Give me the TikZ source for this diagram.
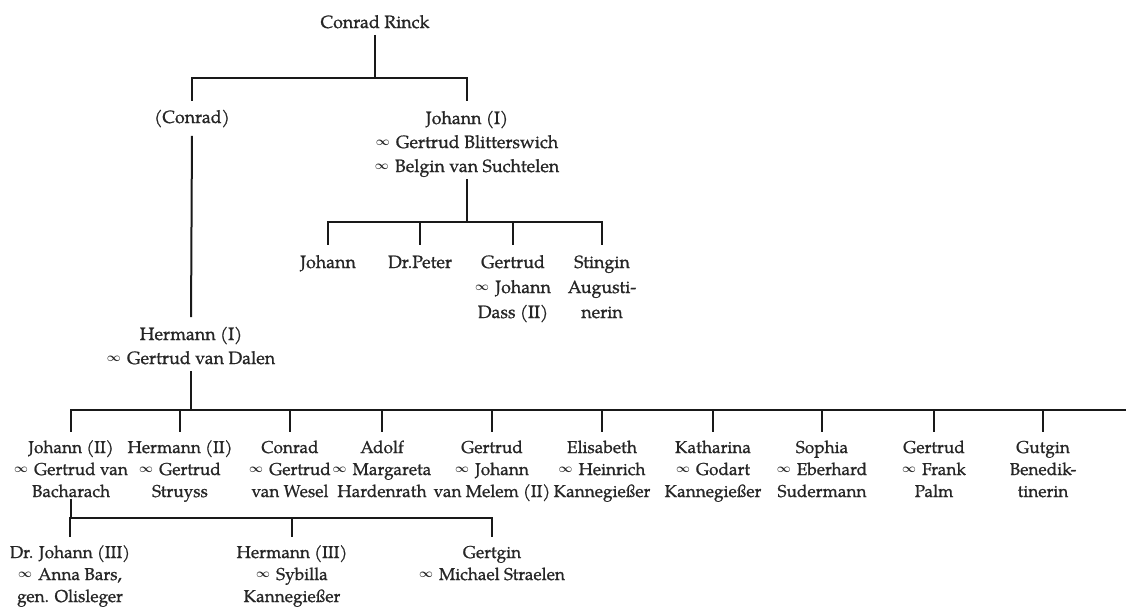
\documentclass[tikz,border=0pt]{standalone}
\usepackage{fontspec}
\setmainfont{TeX Gyre Pagella}[UprightFeatures={FakeBold=0.9}]
\newcommand\mrg{\raisebox{0.3ex}{\scalebox{0.7}{\boldmath$\infty$}}\hspace{0.35em}}
\begin{document}
\begin{tikzpicture}[x=1pt,y=-1pt,
  person/.style={align=center,inner sep=0pt,outer sep=0pt,anchor=north,text=black!85},
  bsA/.style={font=\fontsize{17.8}{23}\selectfont},
  bsB/.style={font=\fontsize{17.8}{24}\selectfont},
  bsC/.style={font=\fontsize{17.8}{25}\selectfont},
  bsD/.style={font=\fontsize{17.2}{22}\selectfont},
  ln/.style={line width=2pt,draw=black!90},
  edge/.style={ln,shorten <=6pt,shorten >=6pt},
  drop/.style={ln,shorten <=6pt}]
\useasboundingbox (0,0) rectangle (1126,607);

% generation 1
\node[person,bsA] (root) at (375,11.9) {\strut Conrad Rinck};
% generation 2
\node[person,bsA] (conrad) at (192,106.9) {\strut(Conrad)};
\node[person,bsB] (johannI) at (467,107.2) {\strut Johann (I)\\\mrg Gertrud Blitterswich\\\mrg Belgin van Suchtelen\strut};
% children of Johann (I)
\node[person,bsC] (jo) at (328,250.5) {\strut Johann};
\node[person,bsC] (peter) at (420,250.5) {\strut Dr.Peter};
\node[person,bsC] (gertA) at (513,250.5) {\strut Gertrud\\\mrg Johann\\Dass (II)\strut};
\node[person,bsC] (sting) at (602,250.5) {\strut Stingin\\Augusti-\\nerin\strut};
% Hermann (I)
\node[person,bsB] (hermI) at (191,323.2) {\strut Hermann (I)\\\mrg Gertrud van Dalen\strut};
% children of Hermann (I)
\node[person,bsD] (jII) at (71,437.6) {\strut Johann (II)\\\mrg Gertrud van\\Bacharach\strut};
\node[person,bsD] (hII) at (180,437.6) {\strut Hermann (II)\\\mrg Gertrud\\Struyss\strut};
\node[person,bsD] (conC) at (290,437.6) {\strut Conrad\\\mrg Gertrud\\van Wesel\strut};
\node[person,bsD] (adolf) at (382,437.6) {\strut Adolf\\\mrg Margareta\\Hardenrath\strut};
\node[person,bsD] (gertB) at (492,437.6) {\strut Gertrud\\\mrg Johann\\van Melem (II)\strut};
\node[person,bsD] (elis) at (602,437.6) {\strut Elisabeth\\\mrg Heinrich\\Kannegießer\strut};
\node[person,bsD] (kath) at (713,437.6) {\strut Katharina\\\mrg Godart\\Kannegießer\strut};
\node[person,bsD] (soph) at (822,437.6) {\strut Sophia\\\mrg Eberhard\\Sudermann\strut};
\node[person,bsD] (gertC) at (934,437.6) {\strut Gertrud\\\mrg Frank\\Palm\strut};
\node[person,bsD] (gut) at (1043,437.6) {\strut Gutgin\\Benedik-\\tinerin\strut};
% children of Johann (II)
\node[person,bsD] (jIII) at (70,542.6) {\strut Dr. Johann (III)\\\mrg Anna Bars,\\gen. Olisleger\strut};
\node[person,bsD] (hIII) at (292,542.6) {\strut Hermann (III)\\\mrg Sybilla\\Kannegießer\strut};
\node[person,bsD] (gertgin) at (492,542.6) {\strut Gertgin\\\mrg Michael Straelen\strut};

% fork levels
\coordinate (fA) at (0,78);
\coordinate (fB) at (0,222);
\coordinate (fC) at (0,410);
\coordinate (fD) at (0,518);
\coordinate (fCend) at (1126,410);

% connectors
\draw[ln] (root.south) -- (root.south |- fA);
\draw[edge] (conrad.north) -- (conrad.north |- fA) -- (johannI.north |- fA) -- (johannI.north);

\draw[ln] (johannI.south) -- (johannI.south |- fB);
\draw[edge] (jo.north) -- (jo.north |- fB) -- (sting.north |- fB) -- (sting.north);
\draw[drop] (peter.north) -- (peter.north |- fB);
\draw[drop] (gertA.north) -- (gertA.north |- fB);

\draw[edge] (conrad.south) -- (hermI.north);

\draw[ln] (hermI.south) -- (hermI.south |- fC);
\draw[drop] (jII.north) -- (jII.north |- fC) -- (fCend);
\foreach \c in {hII,conC,adolf,gertB,elis,kath,soph,gertC,gut}
  \draw[drop] (\c.north) -- (\c.north |- fC);

\draw[ln,shorten <=-5pt] (jII.south) -- (jII.south |- fD);
\draw[edge] (jIII.north) -- (jIII.north |- fD) -- (gertgin.north |- fD) -- (gertgin.north);
\draw[drop] (hIII.north) -- (hIII.north |- fD);
\end{tikzpicture}
\end{document}
